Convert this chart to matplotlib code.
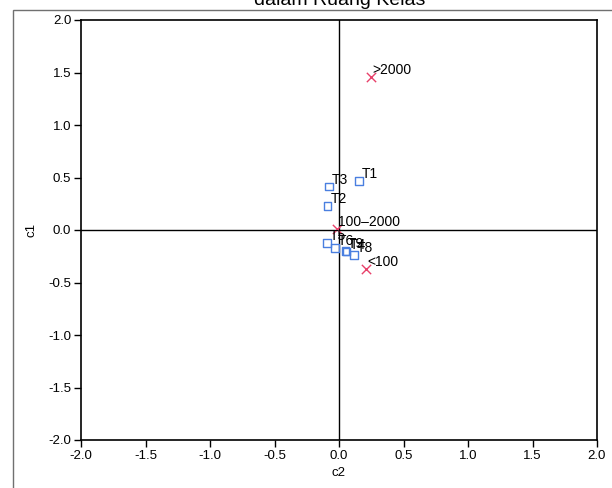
import matplotlib
matplotlib.use("Agg")
import matplotlib.pyplot as plt
from matplotlib.patches import Rectangle

plt.rcParams['font.family'] = ['Liberation Sans', 'DejaVu Sans']

# Column points (squares)
col_labels = ["T1", "T3", "T2", "T5", "T6", "T9", "T4", "T8"]
col_c2 = [0.157, -0.078, -0.088, -0.095, -0.029, 0.049, 0.058, 0.116]
col_c1 = [0.467, 0.413, 0.226, -0.122, -0.169, -0.198, -0.205, -0.236]

# Row points (crosses)
row_labels = [">2000", "100\u20132000", "<100"]
row_c2 = [0.246, -0.018, 0.212]
row_c1 = [1.461, 0.005, -0.375]

ticks = [-2.0, -1.5, -1.0, -0.5, 0.0, 0.5, 1.0, 1.5, 2.0]
tick_labels = ["-2.0", "-1.5", "-1.0", "-0.5", "0.0", "0.5", "1.0", "1.5", "2.0"]

W, H = 612, 488
fig = plt.figure(figsize=(W / 100, H / 100), dpi=100)
ax = fig.add_axes([81 / W, 1 - 440 / H, (597 - 81) / W, (440 - 20) / H])

# outer frame
fig.add_artist(Rectangle((13 / W, -0.1), 1.2, 1 - 10 / H + 0.1,
                         transform=fig.transFigure, fill=False,
                         edgecolor='#707070', linewidth=1.0))

ax.axhline(0, color='black', linewidth=1.0, zorder=1)
ax.axvline(0, color='black', linewidth=1.0, zorder=1)

ax.scatter(col_c2, col_c1, marker='s', s=30, facecolors='none',
           edgecolors='#4a7fe0', linewidths=1.0, zorder=3)
ax.scatter(row_c2, row_c1, marker='x', s=45, color='#e8406a',
           linewidths=1.0, zorder=3)

for lbl, x, y in zip(col_labels, col_c2, col_c1):
    ax.annotate(lbl, (x, y), xytext=(2, 0), textcoords='offset points',
                fontsize=10, ha='left', va='bottom', zorder=4)
for lbl, x, y in zip(row_labels, row_c2, row_c1):
    ax.annotate(lbl, (x, y), xytext=(1, 0), textcoords='offset points',
                fontsize=10, ha='left', va='bottom', zorder=4)

ax.set_xlim(-2, 2)
ax.set_ylim(-2, 2)
ax.set_xticks(ticks)
ax.set_xticklabels(tick_labels)
ax.set_yticks(ticks)
ax.set_yticklabels(tick_labels)
ax.tick_params(direction='out', length=5, width=1.0, labelsize=9.5,
               colors='black', pad=2)
for s in ax.spines.values():
    s.set_linewidth(1.2)
    s.set_color('black')

ax.set_xlabel('c2', fontsize=9.5, labelpad=4)
ax.set_ylabel('c1', fontsize=9.5, labelpad=8)

fig.text(340 / W, 1 - 5 / H, 'dalam Ruang Kelas', ha='center',
         va='baseline', fontsize=14)

fig.savefig('out.png', dpi=100)
